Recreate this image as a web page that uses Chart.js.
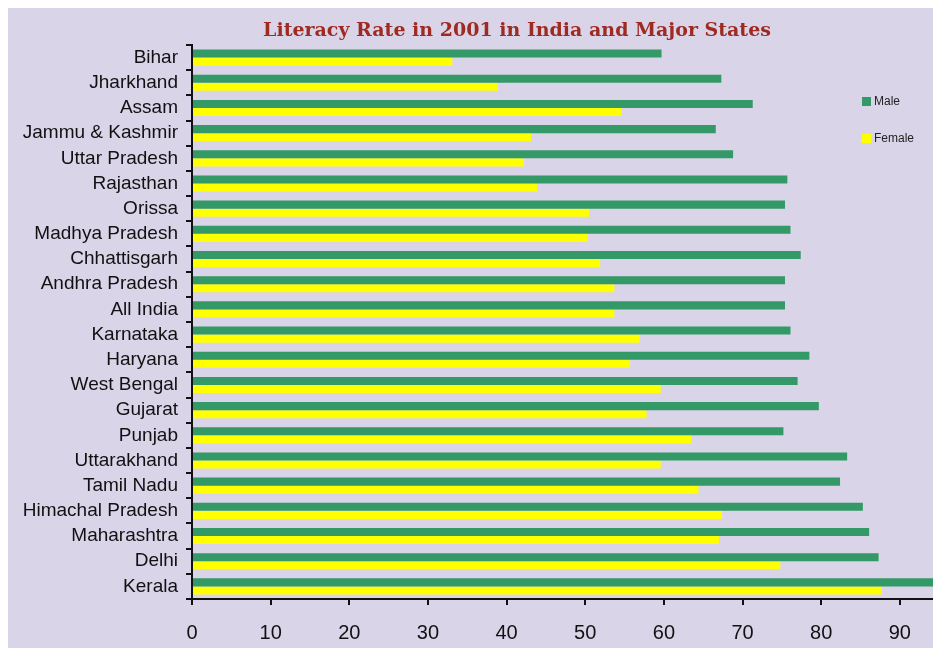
<!DOCTYPE html>
<html>
<head>
<meta charset="utf-8">
<script src="https://cdn.jsdelivr.net/npm/chart.js@4/dist/chart.umd.min.js"></script>
<style>
  body { margin: 8px; background: #fff; }
  #wrap { width: 933px; height: 640px; background: #D9D4E8; }
</style>
</head>
<body>
<div id="wrap"><canvas id="literacyChart"></canvas></div>
<script>
var TITLE = 'Literacy Rate in 2001 in India and Major States';
var STATES = ['Bihar', 'Jharkhand', 'Assam', 'Jammu & Kashmir', 'Uttar Pradesh', 'Rajasthan',
              'Orissa', 'Madhya Pradesh', 'Chhattisgarh', 'Andhra Pradesh', 'All India',
              'Karnataka', 'Haryana', 'West Bengal', 'Gujarat', 'Punjab', 'Uttarakhand',
              'Tamil Nadu', 'Himachal Pradesh', 'Maharashtra', 'Delhi', 'Kerala'];
var MALE = [59.7, 67.3, 71.3, 66.6, 68.8, 75.7, 75.4, 76.1, 77.4, 75.4, 75.4,
            76.1, 78.5, 77.0, 79.7, 75.2, 83.3, 82.4, 85.3, 86.1, 87.3, 94.3];
var FEMALE = [33.1, 38.9, 54.6, 43.1, 42.2, 43.9, 50.5, 50.3, 51.9, 53.7, 53.7,
              56.9, 55.7, 59.6, 57.8, 63.5, 59.6, 64.4, 67.4, 67.0, 74.8, 87.7];
var X_TICKS = [0, 10, 20, 30, 40, 50, 60, 70, 80, 90];

var FONT = '"Liberation Sans", Arial, sans-serif';

// title + legend drawn by hand so they sit where the original has them
var decorPlugin = {
    id: 'decor',
    afterDraw: function (chart) {
        var ctx = chart.ctx;
        ctx.save();
        ctx.fillStyle = '#9E2A22';
        ctx.font = 'bold 19px "DejaVu Serif", serif';
        ctx.textAlign = 'center';
        ctx.textBaseline = 'middle';
        ctx.fillText(TITLE, 509, 23);

        ctx.font = '12px ' + FONT;
        ctx.textAlign = 'left';
        chart.data.datasets.forEach(function (ds, i) {
            var y = 93 + i * 37;
            ctx.fillStyle = ds.backgroundColor;
            ctx.fillRect(854, y - 4, 9, 9);
            ctx.fillStyle = '#222';
            ctx.fillText(ds.label, 866, y + 1);
        });
        ctx.restore();
    }
};

var CHART = new Chart(document.getElementById('literacyChart'), {
    type: 'bar',
    data: {
        labels: STATES,
        datasets: [
            { label: 'Male', data: MALE, backgroundColor: '#339966' },
            { label: 'Female', data: FEMALE, backgroundColor: '#FFFF00' }
        ]
    },
    options: {
        indexAxis: 'y',
        responsive: true,
        maintainAspectRatio: false,
        animation: false,
        layout: { padding: { top: 37, right: 5, left: 0, bottom: 0 } },
        datasets: { bar: { categoryPercentage: 0.64, barPercentage: 1 } },
        plugins: {
            legend: { display: false },
            title: { display: false },
            tooltip: { enabled: false }
        },
        scales: {
            x: {
                min: 0,
                max: 94.6,
                afterBuildTicks: function (s) {
                    s.ticks = X_TICKS.map(function (v) { return { value: v }; });
                },
                afterFit: function (s) { s.height = 49; },
                border: { color: '#111', width: 2 },
                grid: { drawOnChartArea: false, color: '#111', tickLength: 6, lineWidth: 2 },
                ticks: { color: '#111', font: { family: FONT, size: 20 }, padding: 16 }
            },
            y: {
                afterFit: function (s) { s.width = 184; },
                border: { color: '#111', width: 2 },
                grid: { offset: true, drawOnChartArea: false, color: '#111', tickLength: 6, lineWidth: 2 },
                ticks: { color: '#111', font: { family: FONT, size: 19 }, padding: 8, autoSkip: false }
            }
        }
    },
    plugins: [decorPlugin]
});
</script>
</body>
</html>
